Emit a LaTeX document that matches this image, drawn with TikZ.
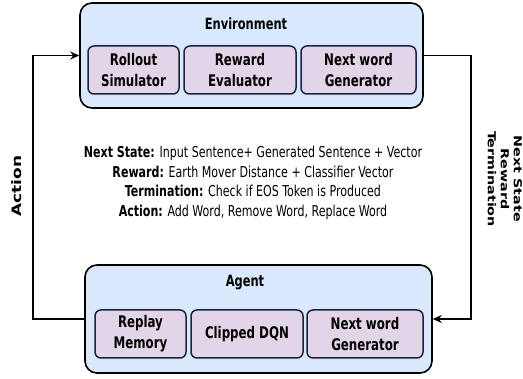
\documentclass[tikz,border=0pt]{standalone}
\usepackage{fontspec}
\setmainfont[FakeStretch=0.82]{DejaVu Sans Condensed}
\newfontfamily\widefont[FakeStretch=1.3]{DejaVu Sans}
\usetikzlibrary{arrows.meta}

\definecolor{outerfill}{HTML}{DAE8FC}
\definecolor{innerfill}{HTML}{E1D5E7}
\definecolor{innerline}{HTML}{1C2340}

\tikzset{
    outerbox/.style={draw=black, fill=outerfill, line width=1.6pt, rounded corners=12pt},
    innerbox/.style={draw=innerline, fill=innerfill, line width=1.5pt, rounded corners=6pt,
        minimum height=48pt, align=center, font=\bfseries\fontsize{16}{21}\selectfont},
    flow/.style={line width=1.6pt, -{Stealth[length=9pt,width=8pt,inset=3pt]}},
    title/.style={font=\bfseries\fontsize{15.5}{18}\selectfont},
    sidelabel/.style={align=center}
}

\begin{document}
\begin{tikzpicture}[x=1pt, y=-1pt]
    \useasboundingbox (0,0) rectangle (523,379);

    % Environment block
    \node[outerbox, minimum width=343pt, minimum height=105pt] (env) at (251.5,55.5) {};
    \node[title] (envtitle) at (246,24) {Environment};
    \node[innerbox, minimum width=91pt] (rollout) at (133.5,70) {Rollout\\Simulator};
    \node[innerbox, minimum width=112pt] (reward) at (240,70) {Reward\\Evaluator};
    \node[innerbox, minimum width=115pt] (nextenv) at (358.5,70) {Next word\\Generator};

    % Agent block
    \node[outerbox, minimum width=347pt, minimum height=108pt] (agent) at (258.5,319) {};
    \node[title] (agenttitle) at (245,283) {Agent};
    \node[innerbox, minimum width=91pt] (replay) at (140.5,334) {Replay\\Memory};
    \node[innerbox, minimum width=112pt] (dqn) at (247,334) {Clipped DQN};
    \node[innerbox, minimum width=116pt] (nextagent) at (365,334) {Next word\\Generator};

    % MDP description
    \node[align=center, font=\fontsize{15}{19.5}\selectfont] (mdp) at (253,183) {%
        \textbf{Next State:} Input Sentence+ Generated Sentence + Vector\\
        \textbf{Reward:} Earth Mover Distance + Classifier Vector\\
        \textbf{Termination:} Check if EOS Token is Produced\\
        \textbf{Action:} Add Word, Remove Word, Replace Word};

    % feedback loop
    \coordinate (lx) at (33,187);
    \coordinate (rx) at (471,187);
    \draw[flow] (agent.west) -| (lx) |- (env.west);
    \draw[flow] (env.east) -| (rx) |- (agent.east);

    \node[sidelabel, rotate=90, font=\widefont\bfseries\fontsize{13}{15}\selectfont] (actlabel) at (17,186) {Action};
    \node[sidelabel, rotate=-90, font=\widefont\bfseries\fontsize{11}{13}\selectfont] (envlabel) at (505,179) {Next State\\Reward\\Termination};
\end{tikzpicture}
\end{document}
